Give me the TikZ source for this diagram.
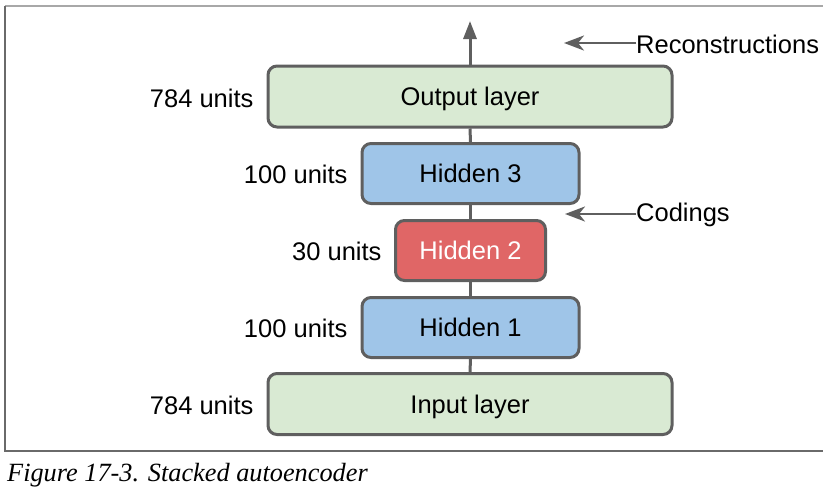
\documentclass[tikz,border=0pt]{standalone}
\usepackage{fontspec}
\setmainfont{Liberation Sans}
\newfontfamily\captionfont{Liberation Serif}
\usetikzlibrary{arrows.meta}

\definecolor{edgegray}{HTML}{5F5F5F}
\definecolor{framegray}{HTML}{6A6A6A}
\definecolor{frametop}{HTML}{A8A8A8}
\definecolor{layergreen}{HTML}{D9EAD3}
\definecolor{layerblue}{HTML}{9FC5E8}
\definecolor{layerred}{HTML}{E06666}

\tikzset{
  layer/.style={draw=edgegray, line width=3pt, rounded corners=9pt,
    inner sep=0pt, text height=18.3pt, text depth=0pt,
    font=\fontsize{25.5}{30}\selectfont},
  wide/.style={layer, fill=layergreen, minimum width=404pt, minimum height=61pt},
  mid/.style={layer, fill=layerblue, minimum width=217pt, minimum height=60pt},
  narrow/.style={layer, fill=layerred, text=white, minimum width=150pt, minimum height=60pt},
  units/.style={anchor=east, font=\fontsize{25.5}{30}\selectfont},
  note/.style={anchor=west, inner sep=0pt, font=\fontsize{25.5}{30}\selectfont},
  link/.style={draw=edgegray, line width=3pt},
  pointer/.style={draw=edgegray, line width=2.6pt,
    -{Stealth[length=20pt,width=15pt,inset=6pt]}}
}

\begin{document}
\begin{tikzpicture}[x=1pt,y=-1pt]
  \useasboundingbox (0,0) rectangle (823,496);

  % frame
  \draw[frametop, line width=2pt] (5,6) -- (823,6);
  \draw[framegray, line width=2pt] (5,6) -- (5,451) -- (823,451);

  % layers, bottom to top
  \node[wide]   (in)  at (470,404) {Input layer};
  \node[mid]    (h1)  at (470.5,327.5) {Hidden 1};
  \node[narrow] (h2)  at (470.5,250.5) {Hidden 2};
  \node[mid]    (h3)  at (470.5,173.5) {Hidden 3};
  \node[wide]   (out) at (470,96.5) {Output layer};
  \coordinate (top) at (470,21);

  % vertical connections
  \draw[link] (in.north) -- (h1.south);
  \draw[link] (h1.north) -- (h2.south);
  \draw[link] (h2.north) -- (h3.south);
  \draw[link] (h3.north) -- (out.south);
  \draw[link, -{Triangle[length=18pt,width=13pt]}] (out.north) -- (top);

  % unit counts
  \node[units] at (257,98)  {784 units};
  \node[units] at (351,174) {100 units};
  \node[units] at (385,251) {30 units};
  \node[units] at (351,328) {100 units};
  \node[units] at (257,405) {784 units};

  % annotations
  \node[note] (rec) at (636,44)  {Reconstructions};
  \node[note] (cod) at (636,215) {Codings};
  \coordinate (recend) at (564,43);
  \coordinate (codend) at (565,214);
  \draw[pointer] (rec.west |- recend) -- (recend);
  \draw[pointer] (cod.west |- codend) -- (codend);

  % caption
  \node[anchor=base west, inner sep=0pt,
        font=\captionfont\itshape\fontsize{26.3}{30}\selectfont] (cap) at (7,481)
        {Figure 17-3. Stacked autoencoder};
\end{tikzpicture}
\end{document}
